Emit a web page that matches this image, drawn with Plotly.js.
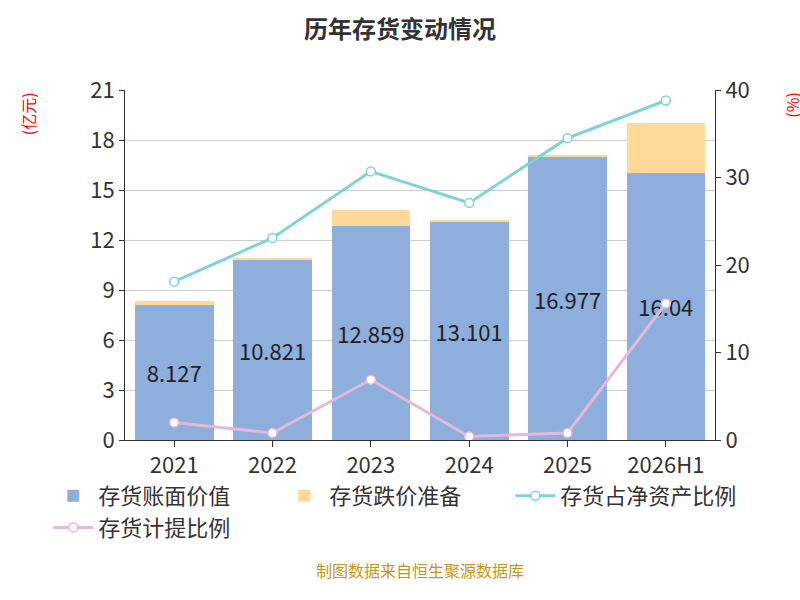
<!DOCTYPE html>
<html><head><meta charset="utf-8">
<script src="https://cdn.plot.ly/plotly-3.0.1.min.js"></script>
</head><body style="margin:0">
<div id="myDiv" style="width:800px;height:600px"></div>
<script>
const years = ['2021', '2022', '2023', '2024', '2025', '2026H1'];
const bookValue = [8.127, 10.821, 12.859, 13.101, 16.977, 16.04];
const provision = [0.2, 0.1, 0.95, 0.05, 0.15, 3.0];
const netAssetRatio = [18.1, 23.1, 30.7, 27.1, 34.5, 38.8];
const provisionRatio = [2.0, 0.8, 6.9, 0.4, 0.8, 15.6];

const font = 'Noto Sans CJK SC, sans-serif';

var data = [
  {
    x: years, y: bookValue, type: 'bar', name: '存货账面价值',
    marker: {color: '#8eaedb'},
    text: bookValue.map(String), textposition: 'inside', insidetextanchor: 'middle',
    textfont: {size: 22, color: '#222'}
  },
  {
    x: years, y: provision, type: 'bar', name: '存货跌价准备',
    marker: {color: '#fed998'}, hoverinfo: 'y'
  },
  {
    x: years, y: netAssetRatio, type: 'scatter', mode: 'lines+markers', name: '存货占净资产比例',
    yaxis: 'y2', line: {color: '#7fd3d3', width: 3},
    marker: {size: 9, color: '#fff', line: {color: '#7fd3d3', width: 1.5}}
  },
  {
    x: years, y: provisionRatio, type: 'scatter', mode: 'lines+markers', name: '存货计提比例',
    yaxis: 'y2', line: {color: '#e6b8db', width: 3},
    marker: {size: 9, color: '#fff', line: {color: '#e6b8db', width: 1.5}}
  }
];

var layout = {
  width: 800, height: 600,
  font: {family: font, size: 20, color: '#333'},
  title: {text: '<b>历年存货变动情况</b>', x: 0.5, y: 0.965, font: {size: 24, color: '#333'}},
  barmode: 'stack', bargap: 0.2,
  showlegend: true,
  legend: {orientation: 'h', x: -0.13, xanchor: 'left', y: -0.1, font: {size: 22, color: '#333'},
           traceorder: 'normal', itemwidth: 40},
  margin: {l: 125, r: 85, t: 90, b: 160},
  plot_bgcolor: '#fff', paper_bgcolor: '#fff',
  xaxis: {type: 'category', showline: true, linecolor: '#333', ticks: 'outside', tickcolor: '#333', ticklen: 6,
          tickfont: {size: 22}},
  yaxis: {range: [0, 21], dtick: 3, showline: true, linecolor: '#333', ticks: 'outside',
          tickcolor: '#333', gridcolor: '#ccc', tickfont: {size: 22}, zeroline: false},
  yaxis2: {range: [0, 40], dtick: 10, overlaying: 'y', side: 'right', showline: true,
           linecolor: '#333', ticks: 'outside', tickcolor: '#333', showgrid: false,
           tickfont: {size: 22}, zeroline: false},
  annotations: [
    {text: '(亿元)', xref: 'paper', yref: 'paper', x: -0.165, y: 1.0, showarrow: false,
     textangle: -90, font: {size: 16, color: 'red'}, xanchor: 'center', yanchor: 'top'},
    {text: '(%)', xref: 'paper', yref: 'paper', x: 1.13, y: 1.0, showarrow: false,
     textangle: -90, font: {size: 16, color: 'red'}, xanchor: 'center', yanchor: 'top'},
    {text: '制图数据来自恒生聚源数据库', xref: 'paper', yref: 'paper', x: 0.5, y: -0.41,
     showarrow: false, font: {size: 16, color: '#c8941a'}}
  ]
};

Plotly.newPlot('myDiv', data, layout, {displayModeBar: false});
</script>
</body></html>
